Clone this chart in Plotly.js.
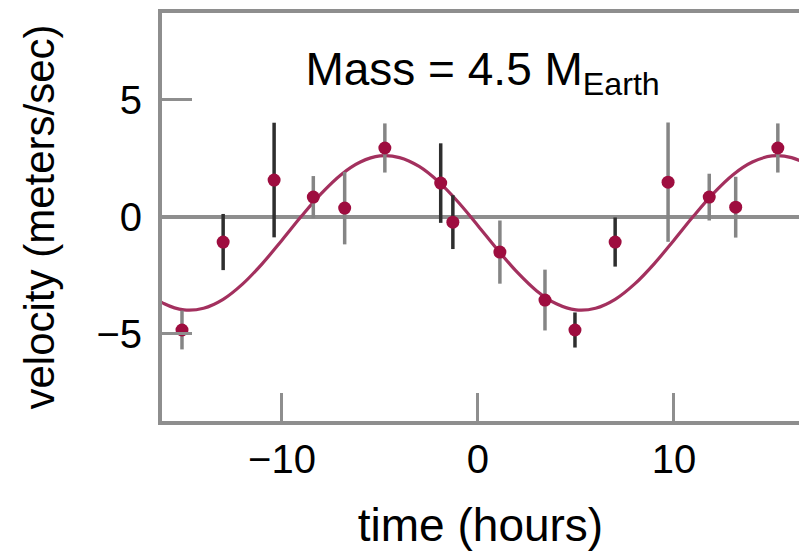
<!DOCTYPE html>
<html><head><meta charset="utf-8">
<script src="https://cdn.plot.ly/plotly-3.0.1.min.js"></script>
<style>html,body{margin:0;padding:0;background:#fff}#chart{width:799px;height:557px}</style>
</head><body><div id="chart"></div>
<script>
// Observed radial-velocity points (hours, m/s) with 1-sigma errors
const timeHours     = [-15.1, -13.0, -10.4, -8.4, -6.8, -4.75, -1.9, -1.28, 1.12, 3.42, 4.95, 7.0, 9.7, 11.8, 13.15, 15.3];
const velocity      = [-4.85, -1.09, 1.56, 0.83, 0.36, 2.93, 1.43, -0.24, -1.52, -3.57, -4.85, -1.09, 1.47, 0.83, 0.40, 2.93];
const velocityError = [0.83, 1.2, 2.45, 0.9, 1.55, 1.05, 1.7, 1.15, 1.35, 1.3, 0.75, 1.05, 2.55, 1.0, 1.3, 1.05];
const errorShade    = ['gray','dark','dark','gray','gray','gray','dark','dark','gray','gray','dark','dark','gray','gray','gray','gray'];

// Fitted orbit curve
const fitTime     = [-17, -16, -15, -14, -13, -12, -11, -10, -9, -8, -7, -6, -5, -4, -3, -2, -1, 0, 1, 2, 3, 4, 5, 6, 7, 8, 9, 10, 11, 12, 13, 14, 15, 16, 17];
const fitVelocity = [-3.15, -3.73, -3.99, -3.92, -3.54, -2.88, -2.01, -1.01, 0.02, 0.98, 1.78, 2.33, 2.59, 2.52, 2.14, 1.48, 0.61, -0.39, -1.42, -2.38, -3.18, -3.73, -3.99, -3.92, -3.54, -2.88, -2.01, -1.01, 0.02, 0.98, 1.78, 2.33, 2.59, 2.52, 2.14];

const xTickVals = [-10, 0, 10];
const xTickText = ['\u221210', '0', '10'];
const yTickVals = [-5, 0, 5];
const yTickText = ['\u22125', '0', '5'];

const AXIS_GRAY = '#8e8e8e';
const POINT_RED = '#9e0d3f';

function pick(arr, shade) { return arr.filter((v, i) => errorShade[i] === shade); }

const traces = [
  {
    x: fitTime, y: fitVelocity, type: 'scatter', mode: 'lines',
    line: {color: '#a3305e', width: 3.2, shape: 'spline'}, hoverinfo: 'skip'
  }
];
[['gray', '#858585'], ['dark', '#2e2e2e']].forEach(([shade, col]) => {
  traces.push({
    x: pick(timeHours, shade), y: pick(velocity, shade), type: 'scatter', mode: 'markers',
    marker: {color: POINT_RED, size: 13, symbol: 'circle'},
    error_y: {type: 'data', array: pick(velocityError, shade), visible: true, color: col, thickness: 3.5, width: 0}
  });
});

const layout = {
  width: 799, height: 557,
  paper_bgcolor: '#ffffff', plot_bgcolor: '#ffffff',
  font: {family: 'Liberation Sans, Arial, sans-serif', color: '#000'},
  showlegend: false,
  margin: {l: 162, r: 0, t: 13, b: 136},
  title: {
    text: 'Mass = 4.5 M<sub>Earth</sub>',
    font: {size: 46, color: '#000'},
    xref: 'container', yref: 'container',
    x: 0.604, xanchor: 'center', y: 0.905, yanchor: 'top'
  },
  xaxis: {
    range: [-16.12, 16.38],
    showline: true, linecolor: AXIS_GRAY, linewidth: 4, mirror: true,
    ticks: 'inside', ticklen: 28, tickwidth: 3, tickcolor: AXIS_GRAY,
    tickvals: xTickVals, ticktext: xTickText,
    tickfont: {size: 40, color: '#000'},
    showgrid: false, zeroline: false,
    title: {text: 'time (hours)', font: {size: 46, color: '#000'}, standoff: 30}
  },
  yaxis: {
    range: [-8.74, 8.70],
    showline: true, linecolor: AXIS_GRAY, linewidth: 4, mirror: false,
    ticks: 'inside', ticklen: 30, tickwidth: 3, tickcolor: AXIS_GRAY,
    tickvals: yTickVals, ticktext: yTickText,
    tickfont: {size: 40, color: '#000'}, ticklabelstandoff: 8,
    showgrid: false,
    zeroline: true, zerolinecolor: AXIS_GRAY, zerolinewidth: 4,
    title: {text: 'velocity (meters/sec)', font: {size: 42, color: '#000'}, standoff: 30}
  }
};

Plotly.newPlot('chart', traces, layout, {displayModeBar: false, staticPlot: true});
</script>
</body></html>
